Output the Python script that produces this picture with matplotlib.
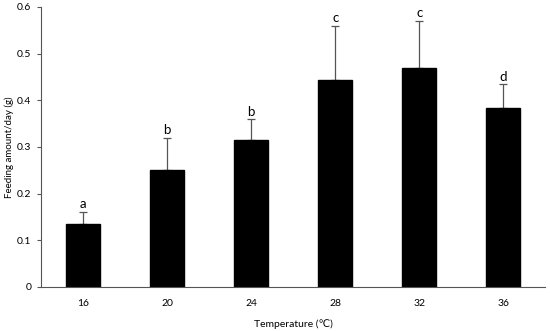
import matplotlib
matplotlib.use("Agg")
import matplotlib.pyplot as plt
import numpy as np

categories = ["16", "20", "24", "28", "32", "36"]
values = [0.135, 0.251, 0.314, 0.444, 0.470, 0.383]
errors = [0.025, 0.068, 0.045, 0.115, 0.100, 0.051]
letters = ["a", "b", "b", "c", "c", "d"]
yticks = [0, 0.1, 0.2, 0.3, 0.4, 0.5, 0.6]
ytick_labels = ["0", "0.1", "0.2", "0.3", "0.4", "0.5", "0.6"]

plt.rcParams['font.family'] = ['Lato', 'DejaVu Sans']

fig = plt.figure(figsize=(5.5, 3.31), dpi=100)
ax = fig.add_axes([0.0745, 0.133, 0.917, 0.846])
x = np.arange(len(categories))
ax.bar(x, values, width=0.4, color='black', edgecolor='black', zorder=2)
ax.errorbar(x, values, yerr=[np.zeros(len(errors)), errors], fmt='none',
            ecolor='#555555', elinewidth=0.9, capsize=3, capthick=0.9, zorder=1)
for xi, v, e, l in zip(x, values, errors, letters):
    ax.text(xi, v + e + 0.004, l, ha='center', va='bottom', fontsize=9.5)

ax.set_xlim(-0.5, 5.5)
ax.set_ylim(0, 0.6)
ax.set_yticks(yticks)
ax.set_yticklabels(ytick_labels, fontsize=7.5)
ax.set_xticks(x)
ax.set_xticklabels(categories, fontsize=7.5)
ax.tick_params(axis='x', length=0, pad=9)
ax.tick_params(axis='y', length=3, width=0.8, color='#555555', pad=4)
for s in ['top', 'right']:
    ax.spines[s].set_visible(False)
for s in ['left', 'bottom']:
    ax.spines[s].set_color('#555555')
    ax.spines[s].set_linewidth(0.8)
ax.set_ylabel("Feeding amount/day (g)", fontsize=7, labelpad=2)
ax.set_xlabel("Temperature (℃)", fontsize=7.5, labelpad=8)

fig.savefig("out.png", dpi=100)
